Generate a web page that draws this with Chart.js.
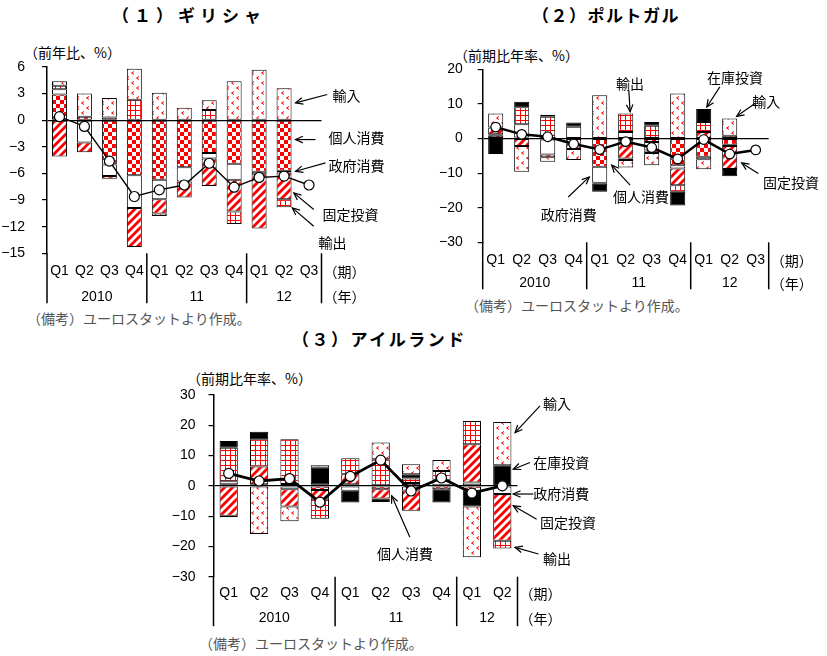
<!DOCTYPE html>
<html lang="ja">
<head>
<meta charset="utf-8">
<script src="https://cdn.jsdelivr.net/npm/chart.js@4.4.1/dist/chart.umd.min.js"></script>
<style>
html, body { margin: 0; padding: 0; background: #fff; }
body { width: 827px; height: 656px; position: relative; overflow: hidden; font-family: "Noto Sans CJK JP", sans-serif; }
canvas { position: absolute; left: 0; top: 0; }
.t { position: absolute; white-space: nowrap; color: #000; line-height: 1; }
.title { font-size: 17px; font-weight: bold; letter-spacing: 1.5px; }
.unit { font-size: 14px; }
.note { font-size: 14px; color: #555; }
</style>
</head>
<body>
<div class="t title" style="left:112px;top:6px;letter-spacing:5px">（１）ギリシャ</div>
<div class="t title" style="left:532px;top:6px">（２）ポルトガル</div>
<div class="t title" style="left:292px;top:330px;letter-spacing:2.5px">（３）アイルランド</div>
<div class="t unit" style="left:24px;top:45px">（前年比、%）</div>
<div class="t unit" style="left:454px;top:48px">（前期比年率、%）</div>
<div class="t unit" style="left:187px;top:371px">（前期比年率、%）</div>
<div class="t note" style="left:27px;top:311px">（備考）ユーロスタットより作成。</div>
<div class="t note" style="left:465px;top:298px">（備考）ユーロスタットより作成。</div>
<div class="t note" style="left:199px;top:636px">（備考）ユーロスタットより作成。</div>

<canvas id="grc" width="827" height="656"></canvas>
<canvas id="prt" width="827" height="656"></canvas>
<canvas id="irl" width="827" height="656"></canvas>

<script>
// categories
const quarterLabels = ['Q1', 'Q2', 'Q3', 'Q4', 'Q1', 'Q2', 'Q3', 'Q4', 'Q1', 'Q2', 'Q3'];
const yearLabels = ['2010', '11', '12'];
const yearFirstIndex = [0, 4, 8];

// (1) Greece, contributions (%)
const grcPrivate = [2.9, 0.4, -5.0, -6.2, -6.7, -5.3, -3.7, -4.9, -5.8, -5.7, null];
const grcGovt = [0.6, -2.5, -1.3, -3.7, -2.2, -1.6, -0.6, -1.8, -0.3, -0.2, null];
const grcInvest = [-4.1, -1.1, -0.3, -4.4, -1.6, -1.8, -3.1, -3.6, -6.1, -3.0, null];
const grcExport = [0.4, null, 0.3, 2.3, -0.3, null, 1.15, -1.4, null, -0.9, null];
const grcImport = [0.5, 2.6, 2.2, 3.5, 3.1, 1.4, 1.1, 4.4, 5.7, 3.6, null];
const grcGdp = [0.4, -0.7, -4.6, -8.6, -7.85, -7.3, -4.85, -7.55, -6.45, -6.3, -7.3];

// (2) Portugal
const prtPrivate = [0.8, 0.3, -0.3, -1.5, -8.2, -0.8, -1.0, -7.7, -5.3, -1.8, null];
const prtGovt = [0.4, 3.8, -4.3, 3.4, -4.6, 1.9, -2.5, -1.0, -0.7, -0.4, null];
const prtInvest = [2.0, -2.2, -0.8, -1.5, -0.3, -5.0, -0.7, -4.8, 1.9, -6.6, null];
const prtExport = [null, 4.9, 6.3, null, null, 5.3, 3.7, -1.9, 2.9, 0.8, null];
const prtStock = [-4.5, 1.6, 0.6, 1.2, -2.3, -0.4, 1.1, -4.0, 3.7, -2.1, null];
const prtImport = [4.0, -7.4, -1.3, -3.2, 12.5, -2.2, -3.5, 13.0, -2.9, 5.0, null];
const prtGdp = [3.3, 1.2, 0.5, -1.6, -3.2, -0.9, -2.6, -5.9, -0.3, -4.5, -3.3];

// (3) Ireland
const irlPrivate = [0.5, 0.5, 0.6, -1.4, 0.5, -1.1, 0.9, -1.1, -1.6, null];
const irlGovt = [1.0, null, -1.1, 0.5, -1.6, null, -1.5, 2.0, 1.1, -2.7];
const irlInvest = [-9.9, 5.9, -5.7, -2.9, 3.3, -3.1, -6.7, null, 12.6, -15.4];
const irlExport = [11.1, 9.0, 14.8, -6.6, 5.3, 8.8, 1.5, 2.9, 7.7, -2.6];
const irlStock = [2.2, 2.5, null, 5.5, -3.9, -1.1, 1.4, -4.4, -5.2, 6.8];
const irlImport = [-0.5, -15.9, -4.9, 0.8, null, 5.5, 3.3, 3.6, -16.8, 14.3];
const irlGdp = [4.1, 1.6, 2.4, -5.4, 3.1, 8.5, -1.7, 2.6, -2.4, 0.0];

// fill patterns
function makePattern(kind) {
    const c = document.createElement('canvas');
    const g = c.getContext('2d');
    const red = '#ff0000';
    if (kind === 'check') {
        c.width = c.height = 8;
        g.fillStyle = '#fff'; g.fillRect(0, 0, 8, 8);
        g.fillStyle = red; g.fillRect(0, 0, 4, 4); g.fillRect(4, 4, 4, 4);
    } else if (kind === 'hatch') {
        c.width = c.height = 8;
        g.fillStyle = '#fff'; g.fillRect(0, 0, 8, 8);
        g.strokeStyle = red; g.lineWidth = 2.8;
        g.beginPath();
        g.moveTo(-2, 10); g.lineTo(10, -2);
        g.moveTo(-2, 2); g.lineTo(2, -2);
        g.moveTo(6, 10); g.lineTo(10, 6);
        g.stroke();
    } else if (kind === 'grid') {
        c.width = c.height = 5;
        g.fillStyle = '#fff'; g.fillRect(0, 0, 5, 5);
        g.fillStyle = red; g.fillRect(0, 0, 5, 1); g.fillRect(0, 0, 1, 5);
    } else {
        c.width = c.height = 10;
        g.fillStyle = '#fff'; g.fillRect(0, 0, 10, 10);
        g.strokeStyle = red; g.lineWidth = 1;
        [[1, 1], [6, 6]].forEach(([x, y]) => {
            g.beginPath(); g.moveTo(x + 3, y + 0.5); g.lineTo(x + 0.5, y + 2); g.lineTo(x + 3, y + 3.5); g.stroke();
        });
    }
    return g.createPattern(c, 'repeat');
}

const fills = {
    '個人消費': makePattern('check'),
    '政府消費': '#ffffff',
    '固定投資': makePattern('hatch'),
    '輸出': makePattern('grid'),
    '在庫投資': '#000000',
    '輸入': makePattern('dots')
};

function arrow(ctx, x1, y1, x2, y2) {
    ctx.beginPath(); ctx.moveTo(x1, y1); ctx.lineTo(x2, y2); ctx.stroke();
    const ang = Math.atan2(y2 - y1, x2 - x1), L = 8, w = 0.42;
    ctx.beginPath();
    ctx.moveTo(x2 - L * Math.cos(ang - w), y2 - L * Math.sin(ang - w));
    ctx.lineTo(x2, y2);
    ctx.lineTo(x2 - L * Math.cos(ang + w), y2 - L * Math.sin(ang + w));
    ctx.stroke();
}

// category labels, year separators and callouts, placed with the chart's own scales
function makeOverlay(o) {
    return {
        id: 'overlay',
        afterDraw(chart) {
            const { ctx, chartArea: a, scales: { x, y } } = chart;
            const n = chart.data.labels.length;
            ctx.save();
            ctx.strokeStyle = '#000';
            ctx.lineWidth = 1.5;
            const seps = [a.left, ...yearFirstIndex.slice(1).map(i => x.getPixelForValue(i - 0.5)), a.right];
            seps.forEach(px => {
                ctx.beginPath(); ctx.moveTo(px, a.bottom); ctx.lineTo(px, a.bottom + o.sepDrop); ctx.stroke();
            });
            ctx.fillStyle = '#000';
            ctx.textBaseline = 'middle';
            ctx.textAlign = 'center';
            ctx.font = '14px "Liberation Sans", Arial, sans-serif';
            chart.data.labels.forEach((q, i) => ctx.fillText(q, x.getPixelForValue(i), a.bottom + o.qDrop));
            yearLabels.forEach((yl, k) => {
                const first = yearFirstIndex[k];
                const last = k + 1 < yearFirstIndex.length ? yearFirstIndex[k + 1] - 1 : n - 1;
                ctx.fillText(yl, x.getPixelForValue((first + last) / 2), a.bottom + o.yDrop);
            });
            ctx.font = '14px "Noto Sans CJK JP", sans-serif';
            ctx.textAlign = 'left';
            ctx.fillText('（期）', a.right + 2, a.bottom + o.qDrop);
            ctx.fillText('（年）', a.right + 2, a.bottom + o.yDrop);

            ctx.lineWidth = 1.2;
            o.notes.forEach(nt => {
                ctx.textAlign = nt.align || 'left';
                ctx.fillText(nt.text, x.getPixelForValue(nt.at[0]), y.getPixelForValue(nt.at[1]));
                nt.arrows.forEach(ar => arrow(ctx,
                    x.getPixelForValue(ar[0]), y.getPixelForValue(ar[1]),
                    x.getPixelForValue(ar[2]), y.getPixelForValue(ar[3])));
            });
            ctx.restore();
        }
    };
}

function makeChart(id, cfg) {
    const datasets = cfg.series.map(s => ({
        type: 'bar',
        label: s[0],
        data: s[1],
        backgroundColor: fills[s[0]],
        borderColor: '#000',
        borderWidth: 1,
        borderSkipped: false,
        stack: 'parts',
        order: 1,
        barPercentage: cfg.barPct,
        categoryPercentage: 1
    }));
    datasets.push({
        type: 'line',
        label: '実質GDP',
        data: cfg.gdp,
        stack: 'gdp',
        order: 0,
        borderColor: '#000',
        borderWidth: cfg.lineWidth,
        pointRadius: cfg.pointRadius,
        pointBackgroundColor: '#fff',
        pointBorderColor: '#000',
        pointBorderWidth: 1.2,
        tension: 0
    });
    return new Chart(document.getElementById(id), {
        data: { labels: cfg.labels, datasets: datasets },
        options: {
            responsive: false,
            animation: false,
            events: [],
            layout: { padding: cfg.pad },
            plugins: { legend: { display: false }, tooltip: { enabled: false } },
            scales: {
                x: { display: false, stacked: true, offset: true },
                y: {
                    stacked: true,
                    min: cfg.min,
                    max: cfg.max,
                    afterFit: s => { s.width = 60; },
                    ticks: {
                        stepSize: cfg.step,
                        color: '#000',
                        padding: cfg.tickPad,
                        font: { family: '"Liberation Sans", Arial, sans-serif', size: 14 },
                        callback: v => (v < 0 ? '\u2212' + Math.abs(v) : String(v))
                    },
                    grid: {
                        color: ctx => (ctx.tick && ctx.tick.value === 0 ? '#000' : 'rgba(0,0,0,0)'),
                        lineWidth: 1.2,
                        tickColor: '#000',
                        tickLength: 5
                    },
                    border: { display: true, color: '#000', width: 1.5 }
                }
            }
        },
        plugins: [makeOverlay(cfg.overlay)]
    });
}

makeChart('grc', {
    labels: quarterLabels,
    series: [['個人消費', grcPrivate], ['政府消費', grcGovt], ['固定投資', grcInvest], ['輸出', grcExport], ['輸入', grcImport]],
    gdp: grcGdp,
    min: -15, max: 6, step: 3,
    pad: { left: -13, right: 505.5, top: 67, bottom: 402.7 },
    tickPad: 17,
    barPct: 0.6,
    lineWidth: 1.4,
    pointRadius: 5,
    overlay: {
        qDrop: 18, yDrop: 43.5, sepDrop: 50,
        notes: [
            { text: '輸入', at: [10.94, 2.73], arrows: [[10.73, 2.9, 9.46, 1.96]] },
            { text: '個人消費', at: [10.78, -1.95], arrows: [[10.26, -2.18, 9.46, -2.18]] },
            { text: '政府消費', at: [10.78, -5.1], arrows: [[10.66, -4.8, 9.46, -5.75]] },
            { text: '固定投資', at: [10.54, -10.6], arrows: [[10.19, -10.07, 9.39, -8.19]] },
            { text: '輸出', at: [10.38, -13.8], arrows: [[10.19, -11.95, 9.33, -9.88]] }
        ]
    }
});

makeChart('prt', {
    labels: quarterLabels,
    series: [['個人消費', prtPrivate], ['政府消費', prtGovt], ['固定投資', prtInvest], ['輸出', prtExport], ['在庫投資', prtStock], ['輸入', prtImport]],
    gdp: prtGdp,
    min: -30, max: 20, step: 10,
    pad: { left: 422.7, right: 58.3, top: 69.3, bottom: 413.7 },
    tickPad: 15,
    barPct: 0.58,
    lineWidth: 2.5,
    pointRadius: 4.8,
    overlay: {
        qDrop: 18, yDrop: 41, sepDrop: 47,
        notes: [
            { text: '輸出', align: 'center', at: [5.17, 15.9], arrows: [[5.12, 13.9, 5.17, 7.7]] },
            { text: '在庫投資', align: 'center', at: [9.2, 17.6], arrows: [[8.62, 14.9, 8.12, 9.1]] },
            { text: '輸入', at: [9.87, 10.6], arrows: [[9.97, 10.1, 9.27, 6.4]] },
            { text: '固定投資', at: [10.28, -12.8], arrows: [[10.1, -10.1, 9.46, -7.05]] },
            { text: '個人消費', align: 'center', at: [5.59, -16.9], arrows: [[5.17, -13.5, 4.46, -7.7]] },
            { text: '政府消費', align: 'center', at: [2.81, -21.9], arrows: [[2.79, -16.9, 3.6, -11.1]] }
        ]
    }
});

makeChart('irl', {
    labels: quarterLabels.slice(0, 10),
    series: [['個人消費', irlPrivate], ['政府消費', irlGovt], ['固定投資', irlInvest], ['輸出', irlExport], ['在庫投資', irlStock], ['輸入', irlImport]],
    gdp: irlGdp,
    min: -30, max: 30, step: 10,
    pad: { left: 153.5, right: 309.5, top: 395, bottom: 79.3 },
    tickPad: 13,
    barPct: 0.6,
    lineWidth: 2.8,
    pointRadius: 5,
    overlay: {
        qDrop: 16.6, yDrop: 41.6, sepDrop: 49.5,
        notes: [
            { text: '輸入', at: [10.34, 27], arrows: [[10.24, 26.4, 9.42, 17.6]] },
            { text: '在庫投資', at: [10.02, 7.7], arrows: [[9.91, 7.7, 9.36, 5.5]] },
            { text: '政府消費', at: [10.02, -2.7], arrows: [[10.02, -2.7, 9.36, -2.7]] },
            { text: '固定投資', at: [10.24, -12.3], arrows: [[10.13, -11.0, 9.36, -6.6]] },
            { text: '輸出', at: [10.34, -24.2], arrows: [[10.19, -22.5, 9.42, -20.3]] },
            { text: '個人消費', align: 'center', at: [5.8, -22.5], arrows: [[5.96, -17.0, 5.36, -3.3]] }
        ]
    }
});
</script>
</body>
</html>
